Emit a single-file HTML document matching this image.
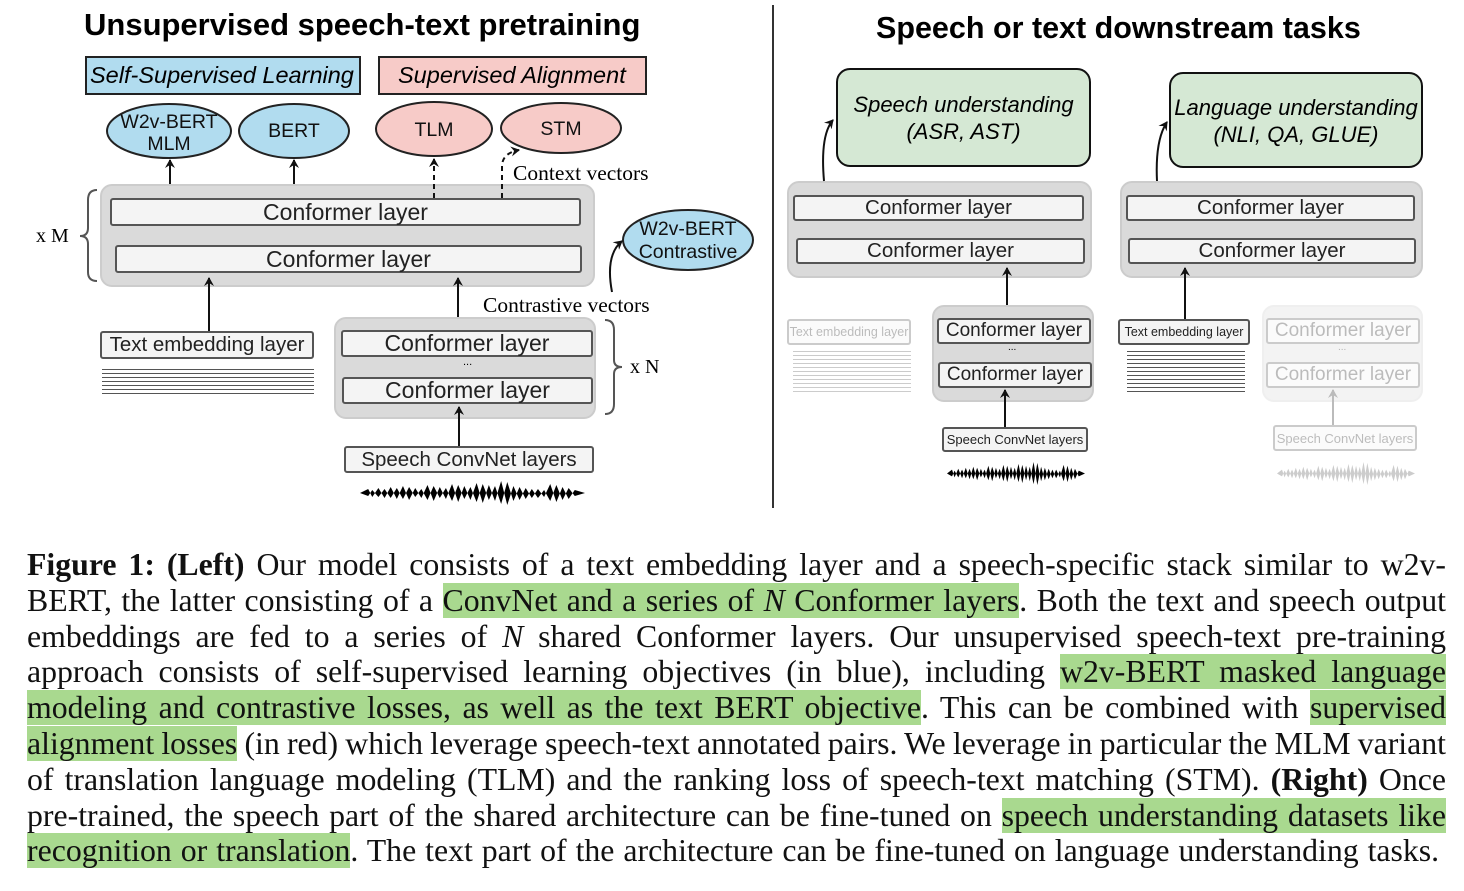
<!DOCTYPE html>
<html><head><meta charset="utf-8"><style>
body{margin:0;width:1464px;height:891px;background:#fff;position:relative;overflow:hidden;font-family:"Liberation Sans",sans-serif}
.a{position:absolute;box-sizing:border-box}
.box{position:absolute;box-sizing:border-box;border:2px solid #555;border-radius:3px;background:#f4f4f4;display:flex;align-items:center;justify-content:center;color:#222;white-space:nowrap}
.grey{position:absolute;box-sizing:border-box;background:#dadada;border:2px solid #ccc;border-radius:12px}
.t{position:absolute;white-space:nowrap}
.sq{position:absolute;background:repeating-linear-gradient(#fff 0 1px,#555 1px 2px,#fff 2px 4px)}
.fade{opacity:.3}
.cap{position:absolute;left:27px;top:547px;width:1419px;font-family:"Liberation Serif",serif;font-size:31.8px;line-height:35.8px;color:#111}
.cap div{text-align:justify;text-align-last:justify;white-space:nowrap;overflow:visible}
.cap div.l{text-align-last:left;word-spacing:1px}
.h{background:#a9d98f}
</style></head><body>
<div class="t" style="left:84px;top:7px;font-size:31px;font-weight:bold">Unsupervised speech-text pretraining</div>
<div class="t" style="left:876px;top:11px;font-size:30.5px;font-weight:bold">Speech or text downstream tasks</div>
<div class="a" style="left:772px;top:5px;width:2px;height:503px;background:#333"></div>

<div class="a" style="left:85px;top:56px;width:276px;height:39px;background:#b1dcef;border:2px solid #222;font-style:italic;font-size:23.5px;padding:4px 3px;white-space:nowrap">Self-Supervised Learning</div>
<div class="a" style="left:378px;top:56px;width:269px;height:39px;background:#f7cbc8;border:2px solid #222;font-style:italic;font-size:23.5px;padding:4px 18px;white-space:nowrap">Supervised Alignment</div>

<div class="grey" style="left:100px;top:184px;width:495px;height:103px"></div>
<div class="box" style="left:110px;top:198px;width:471px;height:28px;font-size:23px">Conformer layer</div>
<div class="box" style="left:115px;top:245px;width:467px;height:28px;font-size:23px">Conformer layer</div>
<div class="box" style="left:100px;top:331px;width:214px;height:28px;font-size:20.5px">Text embedding layer</div>
<div class="sq" style="left:102px;top:368px;width:212px;height:27px"></div>
<div class="grey" style="left:334px;top:317px;width:262px;height:102px"></div>
<div class="box" style="left:341px;top:330px;width:252px;height:27px;font-size:23px">Conformer layer</div>
<div class="t" style="left:463px;top:356px;font-size:11px">...</div>
<div class="box" style="left:342px;top:377px;width:251px;height:27px;font-size:23px">Conformer layer</div>
<div class="box" style="left:344px;top:446px;width:250px;height:27px;font-size:20.5px">Speech ConvNet layers</div>
<div class="t" style="left:36px;top:225px;font-family:'Liberation Serif',serif;font-size:20px">x M</div>
<div class="t" style="left:630px;top:356px;font-family:'Liberation Serif',serif;font-size:20px">x N</div>
<div class="t" style="left:513px;top:161px;font-family:'Liberation Serif',serif;font-size:21.5px">Context vectors</div>
<div class="t" style="left:483px;top:293px;font-family:'Liberation Serif',serif;font-size:21.5px">Contrastive vectors</div>

<div class="a" style="left:836px;top:68px;width:255px;height:99px;background:#d5e8d4;border:2px solid #111;border-radius:14px;text-align:center;font-style:italic;font-size:22px;padding-top:21px;line-height:27px">Speech understanding<br>(ASR, AST)</div>
<div class="a" style="left:1169px;top:72px;width:254px;height:96px;background:#d5e8d4;border:2px solid #111;border-radius:14px;text-align:center;font-style:italic;font-size:22px;padding-top:20px;line-height:27px;white-space:nowrap">Language understanding<br>(NLI, QA, GLUE)</div>
<div class="grey" style="left:787px;top:181px;width:305px;height:97px"></div>
<div class="box" style="left:793px;top:195px;width:291px;height:26px;font-size:20.5px">Conformer layer</div>
<div class="box" style="left:796px;top:238px;width:289px;height:26px;font-size:20.5px">Conformer layer</div>
<div class="grey" style="left:1120px;top:181px;width:303px;height:97px"></div>
<div class="box" style="left:1126px;top:195px;width:289px;height:26px;font-size:20.5px">Conformer layer</div>
<div class="box" style="left:1128px;top:238px;width:288px;height:26px;font-size:20.5px">Conformer layer</div>

<div class="fade"><div class="box" style="left:787px;top:319px;width:124px;height:26px;font-size:12.5px">Text embedding layer</div>
<div class="sq" style="left:793px;top:350px;width:118px;height:42px"></div></div>
<div class="grey" style="left:932px;top:305px;width:162px;height:97px"></div>
<div class="box" style="left:937px;top:318px;width:154px;height:26px;font-size:19px">Conformer layer</div>
<div class="t" style="left:1008px;top:342px;font-size:10px">...</div>
<div class="box" style="left:938px;top:362px;width:154px;height:26px;font-size:19px">Conformer layer</div>
<div class="box" style="left:942px;top:427px;width:146px;height:25px;font-size:13px">Speech ConvNet layers</div>

<div class="box" style="left:1118px;top:319px;width:132px;height:26px;font-size:12.5px">Text embedding layer</div>
<div class="sq" style="left:1127px;top:350px;width:118px;height:42px"></div>
<div class="fade">
<div class="grey" style="left:1262px;top:305px;width:161px;height:97px"></div>
<div class="box" style="left:1266px;top:318px;width:154px;height:26px;font-size:19px">Conformer layer</div>
<div class="t" style="left:1338px;top:342px;font-size:10px">...</div>
<div class="box" style="left:1266px;top:362px;width:154px;height:26px;font-size:19px">Conformer layer</div>
<div class="box" style="left:1273px;top:425px;width:144px;height:26px;font-size:13px">Speech ConvNet layers</div>
</div>

<svg class="a" style="left:0;top:0" width="1464" height="540">
<defs>
<marker id="ar" markerWidth="10" markerHeight="10" refX="8" refY="5" orient="auto" markerUnits="userSpaceOnUse"><path d="M0,0 L9,5 L0,10 L3,5z" fill="#111"/></marker>
<marker id="ag" markerWidth="10" markerHeight="10" refX="8" refY="5" orient="auto" markerUnits="userSpaceOnUse"><path d="M0,0 L9,5 L0,10 L3,5z" fill="#bbb"/></marker>
<symbol id="wave" viewBox="0 0 220 26" preserveAspectRatio="none"><path d="M0,13 L8,9 12,17 18,8 24,18 30,7 36,19 42,6 48,20 54,8 60,18 66,5 72,21 78,7 84,19 90,4 96,22 102,6 108,20 114,3 120,23 126,5 132,21 138,1 144,25 150,6 156,20 162,8 168,18 174,9 180,17 186,4 192,22 198,7 204,19 210,10 220,13 210,16 204,8 198,20 192,5 186,21 180,10 174,18 168,9 162,19 156,7 150,21 144,2 138,24 132,6 126,20 120,4 114,22 108,7 102,19 96,5 90,21 84,8 78,18 72,6 66,20 60,9 54,17 48,7 42,19 36,8 30,18 24,9 18,17 12,10 8,16z" fill="currentColor"/></symbol>
</defs>
<g fill="#b1dcef" stroke="#222" stroke-width="2">
<ellipse cx="169" cy="131" rx="62" ry="27"/><ellipse cx="294" cy="131" rx="55" ry="27"/><ellipse cx="688" cy="240" rx="65" ry="30"/></g>
<g fill="#f7cbc8" stroke="#222" stroke-width="2">
<ellipse cx="434" cy="129" rx="58" ry="27"/><ellipse cx="561" cy="128" rx="60" ry="25"/></g>
<g font-family="Liberation Sans,sans-serif" font-size="19.5" text-anchor="middle" fill="#111">
<text x="169" y="128">W2v-BERT</text><text x="169" y="150">MLM</text><text x="294" y="137">BERT</text>
<text x="434" y="136">TLM</text><text x="561" y="135">STM</text>
<text x="688" y="235">W2v-BERT</text><text x="688" y="258">Contrastive</text></g>
<g stroke="#111" stroke-width="2" fill="none" marker-end="url(#ar)">
<line x1="170" y1="184" x2="170" y2="160"/><line x1="294" y1="184" x2="294" y2="160"/>
<line x1="434" y1="198" x2="434" y2="159" stroke-dasharray="5,4"/>
<path d="M502,198 L502,165 Q503,153 519,150" stroke-dasharray="5,4"/>
<line x1="209" y1="331" x2="209" y2="278"/><line x1="458" y1="317" x2="458" y2="278"/>
<path d="M612,292 Q605,255 622,241"/>
<line x1="459" y1="446" x2="459" y2="407"/>
<path d="M824,181 Q820,135 833,120"/><path d="M1157,181 Q1155,140 1167,122"/>
<line x1="1007" y1="305" x2="1007" y2="268"/><line x1="1005" y1="427" x2="1005" y2="390"/>
<line x1="1185" y1="319" x2="1185" y2="268"/></g>
<line x1="1333" y1="425" x2="1333" y2="390" stroke="#bbb" stroke-width="2" marker-end="url(#ag)"/>
<g stroke="#555" stroke-width="2" fill="none">
<path d="M97,190 Q88,190 88,200 L88,228 Q88,236 80,236 Q88,236 88,244 L88,272 Q88,281 97,281"/>
<path d="M605,320 Q614,320 614,330 L614,360 Q614,367 622,367 Q614,367 614,374 L614,404 Q614,414 605,414"/></g>
<use href="#wave" x="360" y="480" width="225" height="26" style="color:#000"/>
<use href="#wave" x="947" y="461" width="138" height="25" style="color:#000"/>
<use href="#wave" x="1277" y="461" width="138" height="25" style="color:#ccc"/>
</svg>

<div class="cap">
<div><b>Figure 1: (Left)</b> Our model consists of a text embedding layer and a speech-specific stack similar to w2v-</div>
<div>BERT, the latter consisting of a <span class="h">ConvNet and a series of <i>N</i> Conformer layers</span>. Both the text and speech output</div>
<div>embeddings are fed to a series of <i>N</i> shared Conformer layers. Our unsupervised speech-text pre-training</div>
<div>approach consists of self-supervised learning objectives (in blue), including <span class="h">w2v-BERT masked language</span></div>
<div><span class="h">modeling and contrastive losses, as well as the text BERT objective</span>. This can be combined with <span class="h">supervised</span></div>
<div style="word-spacing:-1.2px"><span class="h">alignment losses</span> (in red) which leverage speech-text annotated pairs. We leverage in particular the MLM variant</div>
<div>of translation language modeling (TLM) and the ranking loss of speech-text matching (STM). <b>(Right)</b> Once</div>
<div>pre-trained, the speech part of the shared architecture can be fine-tuned on <span class="h">speech understanding datasets like</span></div>
<div class="l"><span class="h">recognition or translation</span>. The text part of the architecture can be fine-tuned on language understanding tasks.</div>
</div>
</body></html>
